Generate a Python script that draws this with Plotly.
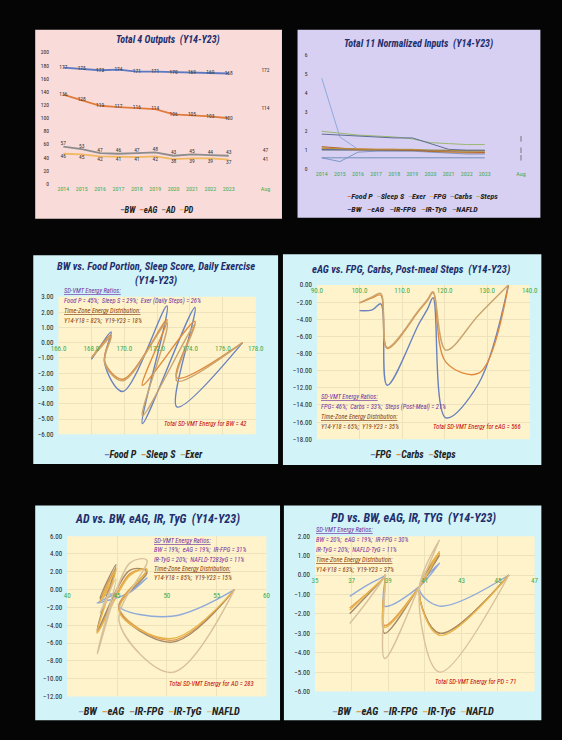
import plotly.graph_objects as go

W, H = 562, 740
FONT = "Liberation Sans Narrow, Roboto Condensed, Roboto, sans-serif"

# ---------------- data ----------------
years = ["2014", "2015", "2016", "2017", "2018", "2019", "2020", "2021", "2022", "2023"]
avg_label = "Aug"

# Panel 1: Total 4 outputs
out_names = ["BW", "eAG", "AD", "PD"]
out_BW = [177, 175, 173, 174, 171, 171, 170, 169, 169, 168]
out_eAG = [136, 128, 119, 117, 116, 114, 106, 105, 103, 100]
out_AD = [57, 53, 47, 46, 47, 48, 43, 45, 44, 43]
out_PD = [46, 45, 42, 41, 41, 42, 38, 39, 39, 37]
out_avg = [172, 114, 47, 41]

# Panel 2: 11 normalized inputs
in_names = ["Food P", "Sleep S", "Exer", "FPG", "Carbs", "Steps", "BW", "eAG", "IR-FPG", "IR-TyG", "NAFLD"]
in_FoodP = [1.12, 1.10, 1.05, 1.05, 1.05, 1.00, 0.95, 0.90, 0.85, 0.85]
in_SleepS = [1.00, 1.00, 1.00, 1.00, 1.00, 1.00, 1.00, 1.00, 1.00, 1.00]
in_Exer = [4.80, 1.70, 1.05, 1.00, 1.00, 1.00, 0.95, 0.95, 0.90, 0.90]
in_FPG = [1.05, 1.05, 1.00, 1.00, 1.00, 0.95, 0.95, 0.90, 0.85, 0.90]
in_Carbs = [0.60, 0.40, 0.90, 0.95, 0.95, 0.95, 0.90, 0.85, 0.80, 0.80]
in_Steps = [2.00, 1.90, 1.80, 1.75, 1.70, 1.60, 1.40, 1.35, 1.30, 1.30]
in_BW = [1.03, 1.02, 1.01, 1.01, 0.99, 0.99, 0.99, 0.98, 0.98, 0.98]
in_eAG = [1.19, 1.12, 1.04, 1.02, 1.01, 1.00, 0.93, 0.92, 0.90, 0.88]
in_IRFPG = [1.85, 1.80, 1.72, 1.70, 1.65, 1.65, 1.35, 1.05, 1.00, 1.00]
in_IRTyG = [1.10, 1.08, 1.05, 1.05, 1.05, 1.05, 1.00, 1.00, 0.95, 0.95]
in_NAFLD = [0.60, 0.60, 0.60, 0.60, 0.60, 0.60, 0.60, 0.60, 0.60, 0.60]
in_avg = [1.6, 1.0, 0.6]

# Panel 3: BW vs Food Portion, Sleep Score, Daily Exercise
p3_x = [177.2, 173.2, 174.3, 171.1, 172.6, 169.9, 168.8, 169.2, 168.5, 168.0]
p3_FoodP = [0, -4.2, 2.3, -5.3, 2.4, -3.2, -1.3, 0.7, -0.3, -1.1]
p3_SleepS = [0, -2.3, 1.4, -2.8, 1.5, -2.4, -1.2, 0.5, -0.3, -1.0]
p3_Exer = [0, -2.5, 1.2, -4.8, 1.3, -2.5, -1.3, 0.4, -0.4, -1.0]

# Panel 4: eAG vs FPG, Carbs, Post-meal Steps
p4_x = [135.0, 128.0, 120.3, 117.3, 116.0, 114.0, 106.5, 105.0, 103.0, 100.0]
p4_FPG = [0, -11.5, -15.5, -1.5, -2.8, -4.5, -11.7, -2.2, -2.9, -3.0]
p4_Carbs = [0, -10.3, -9.0, -0.9, -1.8, -3.0, -7.4, -1.2, -1.5, -2.1]
p4_Steps = [0, -3.5, -7.6, -0.8, -1.7, -2.9, -7.3, -1.0, -1.4, -2.1]

# Panel 5: AD vs BW, eAG, IR, TyG
p5_x = [56.8, 50.5, 45.2, 48.0, 46.3, 43.0, 44.9, 43.3, 44.3, 43.6]
p5_BW = [0, -3.0, -1.8, 1.3, -0.3, -1.5, -0.4, -0.8, -0.5, -0.7]
p5_eAG = [0, -5.7, -2.0, 2.2, 1.8, -4.8, 2.4, -1.2, 0.5, -0.9]
p5_IRFPG = [0, -5.9, -2.2, 2.0, 2.2, -4.6, 2.8, -1.0, 0.3, -0.6]
p5_IRTyG = [0, -5.5, -2.4, 2.3, 1.6, -4.9, 2.2, -1.4, 0.6, -1.0]
p5_NAFLD = [0, -9.3, -3.5, 3.3, 3.0, -7.2, 1.2, -2.6, -0.4, -1.7]

# Panel 6: PD vs BW, eAG, IR, TyG
p6_x = [45.6, 41.8, 40.7, 41.8, 40.7, 38.8, 38.85, 38.8, 37.9, 36.9]
p6_BW = [0, -1.6, -0.7, 0.6, -0.6, -1.6, 0.0, -0.05, -0.5, -1.1]
p6_eAG = [0, -3.0, -0.7, 1.1, -0.6, -2.6, 0.0, -0.1, -0.9, -1.7]
p6_IRFPG = [0, -3.0, -0.7, 1.0, -0.6, -3.0, 0.0, -0.1, -1.0, -2.0]
p6_IRTyG = [0, -3.1, -0.7, 1.2, -0.6, -2.7, 0.0, -0.1, -0.9, -1.8]
p6_NAFLD = [0, -5.0, -0.7, 1.8, -0.6, -4.3, 0.0, -0.1, -1.3, -2.5]

# ---------------- styling ----------------
NAVY = "#1F2F6E"
PURPLE = "#7030A0"
BROWN = "#843C0C"
RED = "#C00000"
GREEN = "#3DAA4A"
PINK = "#F9DCDA"
LAV = "#D8D0F2"
CYAN = "#D2F3F7"
YEL = "#FFF3CC"
GRID = "#EDE2BC"

C_OUT = ["#5B78C0", "#E07B3C", "#8C8C8C", "#F0B860"]
C_IN = ["#E07B3C", "#A5A5A5", "#8FAADC", "#F0B860", "#7F98C8", "#9BB86F",
        "#3E5A9E", "#B5652A", "#5F6E96", "#B8923A", "#6F8FB8"]
C_P3 = ["#6A82BE", "#E08A3C", "#C9A46E"]
C_P5 = ["#8FAAD9", "#E39A4A", "#A58A68", "#E8B54A", "#D8C09A"]


def PX(px):
    return px / W


def PY(py):
    return 1 - py / H


fig = go.Figure()

# axis boxes in pixel coords: (x0, x1, ytop, ybottom)
boxes = {
    1: (49.4, 272.6, 49, 182),
    2: (315.5, 535.5, 52, 167),
    3: (52, 255, 296, 435),
    4: (318, 537, 284, 440),
    5: (61, 266, 538, 700),
    6: (316, 542, 538, 695),
}
xr = {1: [-0.4, 11.4], 2: [-0.4, 11.4], 3: [166, 178], 4: [90, 140], 5: [40, 60], 6: [35, 47]}
yr = {1: [0, 200], 2: [0, 6], 3: [-6, 3], 4: [-18, 0], 5: [-12, 6], 6: [-6, 2]}
xdt = {3: 2, 4: 10, 5: 5, 6: 2}
xt0 = {3: 166, 4: 90, 5: 40, 6: 35}
ydt = {1: 20, 2: 1, 3: 1, 4: 2, 5: 2, 6: 1}

layout_axes = {}
for k, (x0, x1, yt, yb) in boxes.items():
    xn = "xaxis" if k == 1 else f"xaxis{k}"
    yn = "yaxis" if k == 1 else f"yaxis{k}"
    yref = "y" if k == 1 else f"y{k}"
    xref = "x" if k == 1 else f"x{k}"
    yd = [PY(yb), PY(yt)]
    xa = dict(domain=[PX(x0), PX(x1)], range=xr[k], showline=False, zeroline=False,
              ticks="", tickfont=dict(family=FONT, size=6 if k <= 2 else 7, color=GREEN),
              fixedrange=True)
    ya = dict(domain=yd, range=yr[k], anchor=xref, showline=False, zeroline=False,
              ticks="", dtick=ydt[k], tick0=0,
              tickfont=dict(family=FONT, size=5.5 if k <= 2 else 7, color="#222"),
              fixedrange=True)
    if k <= 2:
        xa.update(anchor=yref, tickvals=list(range(10)) + [11], ticktext=years + [avg_label],
                  showgrid=False)
        ya.update(showgrid=False, ticklabelstandoff=6)
    else:
        pos = yd[0] + (0 - yr[k][0]) / (yr[k][1] - yr[k][0]) * (yd[1] - yd[0])
        xa.update(anchor="free", position=pos, dtick=xdt[k], tick0=xt0[k],
                  tickformat=".1f" if k in (3, 4) else "d",
                  showgrid=True, gridcolor=GRID, gridwidth=0.6)
        ya.update(showgrid=True, gridcolor=GRID, gridwidth=0.6, tickformat=".2f", ticklabelstandoff=4)
    layout_axes[xn] = xa
    layout_axes[yn] = ya

# ---------------- shapes (panels) ----------------
shapes = []
panels = [
    ((28, 26, 282, 217), PINK),
    ((298, 26, 548, 216), LAV),
    ((26, 254, 278, 465), CYAN),
    ((283, 253, 549, 466), CYAN),
    ((28, 507, 280, 724), CYAN),
    ((284, 507, 549, 724), CYAN),
]
for (x0, y0, x1, y1), col in panels:
    shapes.append(dict(type="rect", xref="paper", yref="paper", x0=PX(x0), x1=PX(x1),
                       y0=PY(y1), y1=PY(y0), fillcolor=col, line=dict(width=0), layer="below"))
for k in (3, 4, 5, 6):
    shapes.append(dict(type="rect", xref=f"x{k} domain", yref=f"y{k} domain", x0=0, x1=1, y0=0, y1=1,
                       fillcolor=YEL, line=dict(width=0), layer="below"))

# ---------------- traces ----------------
xs = list(range(10))
# Panel 1
p1_series = [out_BW, out_eAG, out_AD, out_PD]
p1_pos = ["middle center", "middle center", "top center", "bottom center"]
for i, s in enumerate(p1_series):
    fig.add_trace(go.Scatter(x=xs, y=s, mode="lines+text", text=[str(v) for v in s],
                             textposition=p1_pos[i], textfont=dict(family=FONT, size=5.5, color="#333"),
                             line=dict(color=C_OUT[i], width=1.8), xaxis="x", yaxis="y",
                             showlegend=False, hoverinfo="skip", cliponaxis=False))
fig.add_trace(go.Scatter(x=[11] * 4, y=out_avg, mode="text", text=[str(v) for v in out_avg],
                         textposition=["middle center", "middle center", "top center", "bottom center"],
                         textfont=dict(family=FONT, size=5.5, color="#333"), xaxis="x", yaxis="y",
                         showlegend=False, hoverinfo="skip", cliponaxis=False))

# Panel 2
p2_series = [in_FoodP, in_SleepS, in_Exer, in_FPG, in_Carbs, in_Steps, in_BW, in_eAG, in_IRFPG, in_IRTyG, in_NAFLD]
for i, s in enumerate(p2_series):
    fig.add_trace(go.Scatter(x=xs, y=s, mode="lines", line=dict(color=C_IN[i], width=1.0),
                             xaxis="x2", yaxis="y2", showlegend=False, hoverinfo="skip"))
fig.add_trace(go.Scatter(x=[11] * 3, y=in_avg, mode="markers",
                         marker=dict(symbol="line-ns", size=4, line=dict(color="#777", width=1)),
                         xaxis="x2", yaxis="y2", showlegend=False, hoverinfo="skip"))


def curves(k, x, series, colors, width=1.4):
    for i, s in enumerate(series):
        fig.add_trace(go.Scatter(x=x, y=s, mode="lines",
                                 line=dict(color=colors[i], width=width, shape="spline", smoothing=1.0),
                                 xaxis=f"x{k}", yaxis=f"y{k}", showlegend=False, hoverinfo="skip"))


curves(3, p3_x, [p3_FoodP, p3_SleepS, p3_Exer], C_P3)
curves(4, p4_x, [p4_FPG, p4_Carbs, p4_Steps], C_P3)
curves(5, p5_x, [p5_BW, p5_eAG, p5_IRFPG, p5_IRTyG, p5_NAFLD], C_P5)
curves(6, p6_x, [p6_BW, p6_eAG, p6_IRFPG, p6_IRTyG, p6_NAFLD], C_P5)

# ---------------- annotations ----------------
ann = []


def text(px, py, s, size, color="#222", xanchor="center", bold=False, italic=False):
    if bold:
        s = f"<b>{s}</b>"
    if italic:
        s = f"<i>{s}</i>"
    ann.append(dict(x=PX(px), y=PY(py), xref="paper", yref="paper", text=s, showarrow=False,
                    xanchor=xanchor, yanchor="middle", font=dict(family=FONT, size=size, color=color)))


def legend(px, py, names, colors, size, xanchor="center", gap="&nbsp;&nbsp;"):
    parts = [f"<span style='color:{c}'>–</span>{n}" for n, c in zip(names, colors)]
    text(px, py, gap.join(parts), size, "#222", xanchor, bold=True, italic=True)


def ul(s):
    return f"<span style='text-decoration:underline'>{s}</span>"


# Panel 1
text(165, 36, "Total 4 Outputs&nbsp;&nbsp;(Y14-Y23)", 10, NAVY, bold=True, italic=True)
legend(153, 208, out_names, C_OUT, 8.5)
# Panel 2
text(423, 40, "Total 11 Normalized Inputs&nbsp;&nbsp;(Y14-Y23)", 10, NAVY, bold=True, italic=True)
legend(347, 195, in_names[:6], C_IN[:6], 8, xanchor="left", gap="&nbsp;&nbsp;")
legend(347, 208, in_names[6:], C_IN[6:], 8, xanchor="left", gap="&nbsp;&nbsp;&nbsp;")

# Panel 3
text(152, 272, "BW vs. Food Portion, Sleep Score, Daily Exercise<br>(Y14-Y23)", 10.5, NAVY, bold=True, italic=True)
text(56, 290, ul("SD-VMT Energy Ratios:"), 6.5, PURPLE, "left", italic=True)
text(56, 300, "Food P = 45%;&nbsp;&nbsp;Sleep S = 29%;&nbsp;&nbsp;Exer (Daily Steps) = 26%", 6.5, PURPLE, "left", italic=True)
text(56, 310, ul("Time-Zone Energy Distribution:"), 6.5, BROWN, "left", italic=True)
text(56, 320, "Y14-Y18 = 82%;&nbsp;&nbsp;Y19-Y23 = 18%", 6.5, BROWN, "left", italic=True)
text(247, 425, "Total SD-VMT Energy for BW = 42", 6.5, RED, "right", italic=True)
legend(150, 455, ["Food P", "Sleep S", "Exer"], C_P3, 10)

# Panel 4
text(415, 268, "eAG vs. FPG, Carbs, Post-meal Steps&nbsp;&nbsp;(Y14-Y23)", 10.5, NAVY, bold=True, italic=True)
text(320, 397, ul("SD-VMT Energy Ratios:"), 6.5, PURPLE, "left", italic=True)
text(320, 407, "FPG= 46%;&nbsp;&nbsp;Carbs = 33%;&nbsp;&nbsp;Steps (Post-Meal) = 21%", 6.5, PURPLE, "left", italic=True)
text(320, 418, ul("Time-Zone Energy Distribution:"), 6.5, BROWN, "left", italic=True)
text(320, 428, "Y14-Y18 = 65%;&nbsp;&nbsp;Y19-Y23 = 35%", 6.5, BROWN, "left", italic=True)
text(530, 428, "Total SD-VMT Energy for eAG = 566", 6.5, RED, "right", italic=True)
legend(417, 455, ["FPG", "Carbs", "Steps"], C_P3, 10)

# Panel 5
p5_names = ["BW", "eAG", "IR-FPG", "IR-TyG", "NAFLD"]
text(154, 521, "AD vs. BW, eAG, IR, TyG&nbsp;&nbsp;(Y14-Y23)", 12, NAVY, bold=True, italic=True)
text(148, 543, ul("SD-VMT Energy Ratios:"), 6.5, PURPLE, "left", italic=True)
text(148, 552, "BW = 19%;&nbsp;&nbsp;eAG = 19%;&nbsp;&nbsp;IR-FPG = 31%", 6.5, PURPLE, "left", italic=True)
text(148, 562, "IR-TyG = 20%;&nbsp;&nbsp;NAFLD-T283yG = 11%", 6.5, PURPLE, "left", italic=True)
text(148, 571, ul("Time-Zone Energy Distribution:"), 6.5, BROWN, "left", italic=True)
text(148, 580, "Y14-Y18 = 85%;&nbsp;&nbsp;Y19-Y23 = 15%", 6.5, BROWN, "left", italic=True)
text(255, 687, "Total SD-VMT Energy for AD = 283", 6.5, RED, "right", italic=True)
legend(155, 715, p5_names, C_P5, 10.5)

# Panel 6
text(417, 520, "PD vs. BW, eAG, IR, TYG&nbsp;&nbsp;(Y14-Y23)", 12, NAVY, bold=True, italic=True)
text(315, 532, ul("SD-VMT Energy Ratios:"), 6.5, PURPLE, "left", italic=True)
text(315, 542, "BW = 20%;&nbsp;&nbsp;eAG = 19%;&nbsp;&nbsp;IR-FPG = 30%", 6.5, PURPLE, "left", italic=True)
text(315, 552, "IR-TyG = 20%;&nbsp;&nbsp;NAFLD-TyG = 11%", 6.5, PURPLE, "left", italic=True)
text(315, 562, ul("Time-Zone Energy Distribution:"), 6.5, BROWN, "left", italic=True)
text(315, 572, "Y14-Y18 = 63%;&nbsp;&nbsp;Y19-Y23 = 37%", 6.5, BROWN, "left", italic=True)
text(525, 685, "Total SD-VMT Energy for PD = 71", 6.5, RED, "right", italic=True)
legend(417, 715, p5_names, C_P5, 10.5)

fig.update_layout(width=W, height=H, margin=dict(l=0, r=0, t=0, b=0),
                  paper_bgcolor="#050505", plot_bgcolor="rgba(0,0,0,0)",
                  shapes=shapes, annotations=ann, showlegend=False, **layout_axes)

fig.write_html("out.html", config={"displayModeBar": False},
               post_script="document.body.style.margin='0';document.body.style.padding='0';"
                           "document.body.style.background='#050505';")
